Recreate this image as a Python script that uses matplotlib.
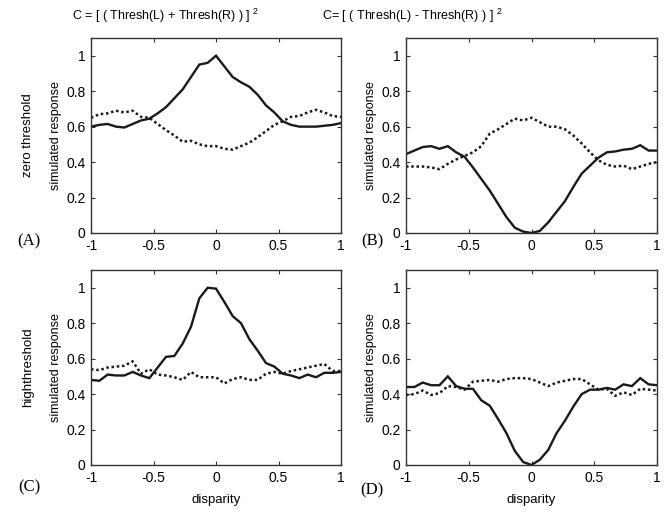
import matplotlib
matplotlib.use('Agg')
import matplotlib.pyplot as plt
import numpy as np

plt.rcParams['font.family'] = ['Liberation Sans', 'DejaVu Sans']
plt.rcParams['mathtext.fontset'] = 'custom'
plt.rcParams['mathtext.rm'] = 'Liberation Sans'

disparity = np.linspace(-1, 1, 31)

# (A) zero threshold, C = [(L + R)]^2
a_solid = [0.60, 0.61, 0.615, 0.60, 0.595, 0.615, 0.635, 0.645, 0.675, 0.71,
           0.76, 0.81, 0.88, 0.95, 0.96, 1.00, 0.94, 0.88, 0.85, 0.825,
           0.78, 0.72, 0.68, 0.63, 0.61, 0.60, 0.60, 0.60, 0.605, 0.61, 0.62]
a_dotted = [0.65, 0.67, 0.675, 0.69, 0.68, 0.69, 0.655, 0.65, 0.615, 0.58,
            0.55, 0.515, 0.52, 0.50, 0.49, 0.49, 0.475, 0.47, 0.49, 0.51,
            0.54, 0.575, 0.61, 0.63, 0.655, 0.66, 0.68, 0.695, 0.68, 0.66, 0.655]
# (B) zero threshold, C = [(L - R)]^2
b_solid = [0.445, 0.465, 0.485, 0.49, 0.475, 0.49, 0.455, 0.43, 0.37, 0.305,
           0.24, 0.165, 0.09, 0.03, 0.008, 0.0, 0.012, 0.06, 0.12, 0.18,
           0.26, 0.335, 0.38, 0.425, 0.455, 0.46, 0.47, 0.475, 0.495, 0.465, 0.465]
b_dotted = [0.375, 0.375, 0.375, 0.37, 0.36, 0.39, 0.415, 0.435, 0.455, 0.49,
            0.56, 0.585, 0.615, 0.645, 0.635, 0.65, 0.625, 0.60, 0.60, 0.585,
            0.55, 0.505, 0.455, 0.41, 0.385, 0.375, 0.38, 0.36, 0.375, 0.39, 0.40]
# (C) high threshold, C = [(L + R)]^2
c_solid = [0.48, 0.475, 0.51, 0.505, 0.505, 0.525, 0.505, 0.49, 0.55, 0.61,
           0.615, 0.685, 0.78, 0.94, 1.00, 0.995, 0.92, 0.84, 0.80, 0.71,
           0.645, 0.575, 0.555, 0.515, 0.505, 0.49, 0.51, 0.495, 0.52, 0.52, 0.525]
c_dotted = [0.54, 0.535, 0.55, 0.555, 0.56, 0.585, 0.515, 0.54, 0.51, 0.505,
            0.495, 0.48, 0.525, 0.495, 0.495, 0.495, 0.46, 0.485, 0.495, 0.48,
            0.48, 0.515, 0.525, 0.515, 0.53, 0.54, 0.55, 0.56, 0.57, 0.53, 0.53]
# (D) high threshold, C = [(L - R)]^2
d_solid = [0.44, 0.44, 0.465, 0.45, 0.45, 0.50, 0.445, 0.43, 0.43, 0.365,
           0.335, 0.26, 0.18, 0.08, 0.017, 0.0, 0.03, 0.085, 0.18, 0.25,
           0.33, 0.40, 0.425, 0.425, 0.435, 0.425, 0.455, 0.445, 0.49, 0.455, 0.45]
d_dotted = [0.395, 0.40, 0.42, 0.395, 0.405, 0.445, 0.44, 0.425, 0.47, 0.475,
            0.48, 0.47, 0.485, 0.49, 0.49, 0.485, 0.465, 0.445, 0.465, 0.475,
            0.485, 0.485, 0.455, 0.425, 0.43, 0.39, 0.41, 0.395, 0.43, 0.425, 0.42]

xticks = [-1, -0.5, 0, 0.5, 1]
xticklabels = ['-1', '-0.5', '0', '0.5', '1']
yticks = [0, 0.2, 0.4, 0.6, 0.8, 1]
yticklabels = ['0', '0.2', '0.4', '0.6', '0.8', '1']

fig = plt.figure(figsize=(6.72, 5.13), dpi=100)
W, H = 672.0, 513.0


def make_axes(left, top, right, bottom):
    return fig.add_axes([left / W, 1 - bottom / H, (right - left) / W, (bottom - top) / H])


panels = [
    (make_axes(91, 38, 341, 233), a_solid, a_dotted),
    (make_axes(406, 38, 657, 233), b_solid, b_dotted),
    (make_axes(91, 270, 341, 465), c_solid, c_dotted),
    (make_axes(406, 270, 657, 465), d_solid, d_dotted),
]

for ax, solid, dotted in panels:
    ax.plot(disparity, solid, color='#1a1a1a', lw=1.7, solid_joinstyle='miter')
    ax.plot(disparity, dotted, color='#1a1a1a', lw=1.8, linestyle=(0, (1, 1.1)))
    ax.set_xlim(-1, 1)
    ax.set_ylim(0, 1.1)
    ax.set_xticks(xticks)
    ax.set_xticklabels(xticklabels)
    ax.set_yticks(yticks)
    ax.set_yticklabels(yticklabels)
    ax.tick_params(direction='in', length=3, width=0.8, labelsize=10,
                   top=True, right=True, color='#333333')
    ax.tick_params(axis='x', pad=4)
    ax.tick_params(axis='y', pad=4)
    for sp in ax.spines.values():
        sp.set_color('#333333')
        sp.set_linewidth(1.0)
    ax.set_ylabel('simulated response', fontsize=9, labelpad=3)

# row labels
fig.text(28 / W, 1 - 135 / H, 'zero threshold', rotation=90, fontsize=9.5,
         ha='center', va='center')
fig.text(28 / W, 1 - 367 / H, 'highthreshold', rotation=90, fontsize=9.5,
         ha='center', va='center')

# column titles
fig.text(166 / W, 1 - 16 / H, 'C = [ ( Thresh(L) + Thresh(R) ) ] $^{2}$', fontsize=9,
         ha='center', va='center')
fig.text(412 / W, 1 - 16 / H, 'C= [ ( Thresh(L) - Thresh(R) ) ] $^{2}$', fontsize=9,
         ha='center', va='center')

# panel letters
serif = ['Liberation Serif', 'DejaVu Serif']
fig.text(29 / W, 1 - 241 / H, '(A)', family=serif, fontsize=12, ha='center', va='center')
fig.text(372 / W, 1 - 241 / H, '(B)', family=serif, fontsize=12, ha='center', va='center')
fig.text(29 / W, 1 - 487 / H, '(C)', family=serif, fontsize=12, ha='center', va='center')
fig.text(372 / W, 1 - 490 / H, '(D)', family=serif, fontsize=12, ha='center', va='center')

# x labels
panels[2][0].set_xlabel('disparity', fontsize=9.5, labelpad=7)
panels[3][0].set_xlabel('disparity', fontsize=9.5, labelpad=7)

fig.savefig('out.png', dpi=100)
